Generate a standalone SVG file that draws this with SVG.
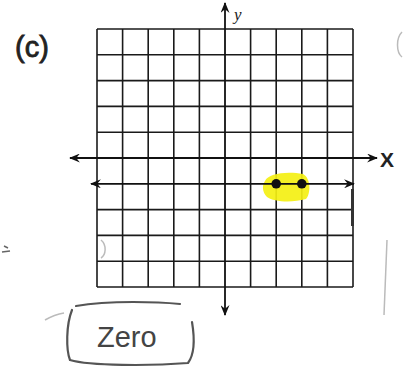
<svg xmlns="http://www.w3.org/2000/svg" width="404" height="368" viewBox="0 0 404 368">
  <style>
    .grid line { stroke: #1a1a1a; stroke-width: 1.6; }
    .axis { stroke: #111; stroke-width: 1.8; fill: none; }
    .hand { font-family: "Liberation Sans", Arial, sans-serif; fill: #222; }
    .faint { stroke: #bbb; stroke-width: 1.5; fill: none; }
  </style>
  <defs>
    <marker id="arr" viewBox="0 0 12 10" refX="11" refY="5" markerWidth="11" markerHeight="9" orient="auto-start-reverse" markerUnits="userSpaceOnUse">
      <path d="M0,0 L12,5 L0,10 L4,5 Z" fill="#111"/>
    </marker>
  </defs>
  <rect width="404" height="368" fill="#ffffff"/>

  <g id="grid" class="grid">
    <line x1="97" y1="29" x2="97" y2="287"/>
    <line x1="122.6" y1="29" x2="122.6" y2="287"/>
    <line x1="148.2" y1="29" x2="148.2" y2="287"/>
    <line x1="173.8" y1="29" x2="173.8" y2="287"/>
    <line x1="199.4" y1="29" x2="199.4" y2="287"/>
    <line x1="250.6" y1="29" x2="250.6" y2="287"/>
    <line x1="276.2" y1="29" x2="276.2" y2="287"/>
    <line x1="301.8" y1="29" x2="301.8" y2="287"/>
    <line x1="327.4" y1="29" x2="327.4" y2="287"/>
    <line x1="353" y1="29" x2="353" y2="287"/>
    <line x1="97" y1="29" x2="353" y2="29"/>
    <line x1="97" y1="54.8" x2="353" y2="54.8"/>
    <line x1="97" y1="80.6" x2="353" y2="80.6"/>
    <line x1="97" y1="106.4" x2="353" y2="106.4"/>
    <line x1="97" y1="132.2" x2="353" y2="132.2"/>
    <line x1="97" y1="209.6" x2="353" y2="209.6"/>
    <line x1="97" y1="235.4" x2="353" y2="235.4"/>
    <line x1="97" y1="261.2" x2="353" y2="261.2"/>
    <line x1="97" y1="287" x2="353" y2="287"/>
  </g>

  <g id="highlight">
    <path d="M265,181 C268,173 288,171 303,174 C311,178 311,194 306,199 C292,203 274,202 267,197 C262,192 262,185 265,181 Z" fill="#f4f012" opacity="0.92"/>
  </g>

  <g id="connectors">
    <line id="x-axis" class="axis" x1="70" y1="158" x2="377" y2="158" marker-start="url(#arr)" marker-end="url(#arr)"/>
    <line id="y-axis" class="axis" x1="225" y1="3" x2="225" y2="315" marker-start="url(#arr)" marker-end="url(#arr)"/>
    <line id="answer-line" class="axis" x1="91" y1="183.8" x2="354" y2="183.8" marker-start="url(#arr)" marker-end="url(#arr)"/>
    <line id="edge-mark" x1="352.5" y1="189" x2="352.5" y2="226" stroke="#333" stroke-width="3"/>
  </g>

  <g id="point-a"><circle cx="276.2" cy="183.8" r="4.8" fill="#111"/></g>
  <g id="point-b"><circle cx="301.8" cy="183.8" r="4.8" fill="#111"/></g>

  <g id="labels">
    <text class="hand" x="15" y="57" font-size="29" stroke="#222" stroke-width="0.8">(c)</text>
    <text x="234" y="20" font-family="'Liberation Serif', serif" font-style="italic" font-size="17" fill="#222">y</text>
    <text class="hand" x="380" y="167" font-size="21" font-weight="bold">X</text>
  </g>

  <g id="answer">
    <path d="M76,306 C110,300 160,302 180,304 M72,310 C66,325 66,350 70,360 C90,366 150,366 188,363 C194,355 195,340 192,322" stroke="#555" stroke-width="2.2" fill="none" stroke-linecap="round"/>
    <text x="97" y="347" font-family="'Liberation Sans', Arial, sans-serif" font-size="29" fill="#444">Zero</text>
  </g>

  <g id="stray-marks">
    <path class="faint" d="M402,32 C396,38 396,52 402,57"/>
    <path class="faint" d="M387,240 L384,315"/>
    <path class="faint" d="M45,320 C52,316 58,314 64,313"/>
    <path d="M2,252 L10,251 M4,246 L8,248" stroke="#666" stroke-width="1.5" fill="none"/>
    <path class="faint" d="M101,240 C107,245 106,255 101,258"/>
  </g>
</svg>
